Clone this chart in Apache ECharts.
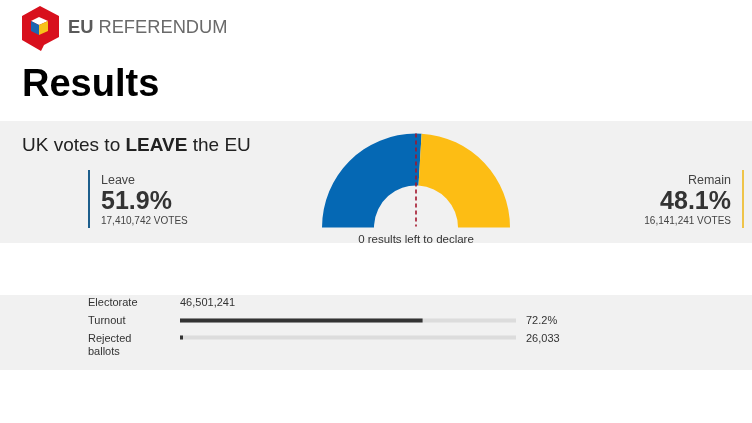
<!DOCTYPE html>
<html>
<head>
<meta charset="utf-8">
<script src="https://cdn.jsdelivr.net/npm/echarts@6/dist/echarts.min.js"></script>
<style>
html,body{margin:0;padding:0;background:#fff;}
#chart{width:752px;height:423px;}
</style>
</head>
<body>
<div id="chart"></div>
<script>
// ---- data ----
var sides = ['Leave', 'Remain'];
var sharePct = [51.9, 48.1];
var voteCounts = ['17,410,742', '16,141,241'];
var sideColors = ['#0568b4', '#fdbd14'];
var resultsLeft = 0;
var electorate = '46,501,241';
var statCategories = ['Turnout', 'Rejected ballots'];
var statValues = [72.2, 0.056];          // percent of electorate
var statLabels = ['72.2%', '26,033'];

var FONT = 'Arial, "Liberation Sans", Helvetica, sans-serif';
var chart = echarts.init(document.getElementById('chart'));

var cx = 416, cy = 227.5;

var option = {
  backgroundColor: '#ffffff',
  animation: false,
  graphic: [
    // bands
    {type:'rect', z:-10, shape:{x:0,y:121,width:752,height:122}, style:{fill:'#f1f1f1'}},
    {type:'rect', z:-10, shape:{x:0,y:295,width:752,height:75}, style:{fill:'#f1f1f1'}},
    // logo
    {type:'polygon', shape:{points:[[40,6],[59,16],[59,37],[44,45],[41,51],[22,40],[22,16]]}, style:{fill:'#d8101d'}},
    {type:'polygon', shape:{points:[[31,21],[39,17],[48,21],[39,25]]}, style:{fill:'#ffffff'}},
    {type:'polygon', shape:{points:[[31,21],[39,25],[39,35],[31,31]]}, style:{fill:'#1b67b2'}},
    {type:'polygon', shape:{points:[[39,25],[48,21],[48,31],[39,35]]}, style:{fill:'#f7c21a'}},
    {type:'text', left:68, top:19, style:{text:'{b|EU} REFERENDUM', rich:{b:{fontWeight:'bold', fontSize:18.3, fontFamily:FONT, fill:'#5a5a5a'}}, font:'18.3px '+FONT, fill:'#6a6a6a'}},
    {type:'text', left:22, top:67, style:{text:'Results', font:'bold 38px '+FONT, fill:'#000'}},
    {type:'text', left:22, top:136, style:{text:'UK votes to {b|LEAVE} the EU', font:'19px '+FONT, fill:'#222', rich:{b:{fontWeight:'bold', fontSize:19, fontFamily:FONT, fill:'#222'}}}},
    // leave
    {type:'rect', shape:{x:88,y:170,width:2,height:58}, style:{fill:'#1d5e8c'}},
    {type:'text', left:101, top:174, style:{text:sides[0], font:'12.5px '+FONT, fill:'#444'}},
    {type:'text', left:101, top:190, style:{text:sharePct[0].toFixed(1)+'%', font:'bold 25px '+FONT, fill:'#333'}},
    {type:'text', left:101, top:216, style:{text:voteCounts[0]+' VOTES', font:'10px '+FONT, fill:'#444'}},
    // remain
    {type:'rect', shape:{x:742,y:170,width:2,height:58}, style:{fill:'#efc449'}},
    {type:'text', right:21, top:174, style:{text:sides[1], font:'12.5px '+FONT, fill:'#444', align:'right'}},
    {type:'text', right:21, top:190, style:{text:sharePct[1].toFixed(1)+'%', font:'bold 25px '+FONT, fill:'#333', align:'right'}},
    {type:'text', right:21, top:216, style:{text:voteCounts[1]+' VOTES', font:'10px '+FONT, fill:'#444', align:'right'}},
    // midline
    {type:'line', z:50, shape:{x1:cx,y1:cy-94,x2:cx,y2:cy-1}, style:{stroke:'#a3162c', lineWidth:1.6, lineDash:[4,3]}},
    {type:'text', x:cx, y:234, style:{text:resultsLeft+' results left to declare', font:'11.5px '+FONT, fill:'#333', align:'center', verticalAlign:'top'}},
    // electorate row
    {type:'text', left:88, top:297, style:{text:'Electorate', font:'11px '+FONT, fill:'#333'}},
    {type:'text', left:180, top:297, style:{text:electorate, font:'11px '+FONT, fill:'#333'}},
    {type:'text', left:88, top:315, style:{text:statCategories[0], font:'11px '+FONT, fill:'#333'}},
    {type:'text', left:88, top:332, style:{text:'Rejected\nballots', font:'11px '+FONT, fill:'#333', lineHeight:13.5}},
    {type:'text', left:526, top:315, style:{text:statLabels[0], font:'11px '+FONT, fill:'#333'}},
    {type:'text', left:526, top:333, style:{text:statLabels[1], font:'11px '+FONT, fill:'#333'}}
  ],
  grid: {left:180, width:336, top:312, height:34},
  xAxis: {type:'value', min:0, max:100, show:false},
  yAxis: {type:'category', data:statCategories, inverse:true, show:false},
  series: [
    {
      type:'pie',
      center:[cx, cy],
      radius:[42, 94],
      startAngle:180,
      clockwise:true,
      silent:true,
      label:{show:false},
      labelLine:{show:false},
      itemStyle:{borderWidth:0},
      data:[
        {name:sides[0], value:sharePct[0], itemStyle:{color:sideColors[0]}},
        {name:sides[1], value:sharePct[1], itemStyle:{color:sideColors[1]}},
        {name:'', value:sharePct[0]+sharePct[1], itemStyle:{color:'rgba(0,0,0,0)'}}
      ]
    },
    {
      type:'bar',
      data:statValues,
      barWidth:4,
      barMinHeight:3,
      showBackground:true,
      backgroundStyle:{color:'#dcdcdc'},
      itemStyle:{color:'#333333'},
      silent:true
    }
  ]
};
chart.setOption(option);
</script>
</body>
</html>
